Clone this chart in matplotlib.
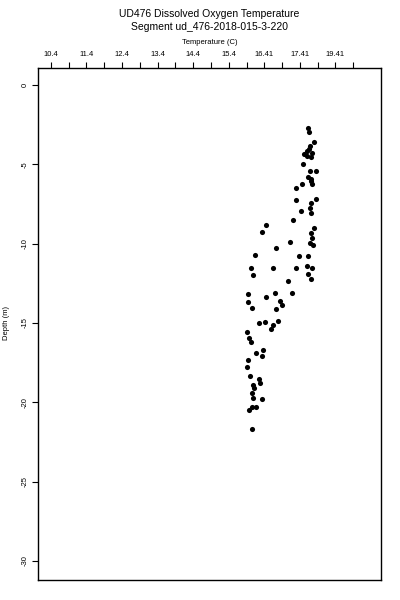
"""Profil de température (UD476) : profondeur en fonction de la température."""

import matplotlib
matplotlib.use("Agg")
import matplotlib.pyplot as plt

plt.rcParams["font.family"] = ["Liberation Sans", "DejaVu Sans"]
plt.rcParams["axes.unicode_minus"] = False

TITLE_1 = "UD476 Dissolved Oxygen Temperature"
TITLE_2 = "Segment ud_476-2018-015-3-220"

# valeurs
temperature = [
    17.62, 17.66, 17.80, 17.68, 17.59, 17.52, 17.73, 17.71, 17.50, 17.68,
    17.84, 17.64, 17.71, 17.73, 17.45, 17.29, 17.28, 17.85, 17.70, 17.68,
    17.70, 17.43, 17.21, 16.45, 16.33, 17.80, 17.70, 17.73, 17.68, 17.76,
    17.12, 16.73, 16.14, 17.37, 17.64, 16.03, 16.65, 17.28, 17.59, 17.73,
    16.09, 17.64, 17.70, 17.06, 15.95, 16.44, 16.70, 17.17, 15.95, 16.05,
    16.84, 16.89, 16.73, 16.26, 16.42, 16.78, 16.64, 16.58, 15.91, 15.97,
    16.02, 16.17, 16.36, 16.34, 15.93, 15.91, 16.00, 16.26, 16.28, 16.09,
    16.06, 16.09, 16.34, 16.05, 16.16, 15.97, 16.06,
    17.65, 17.60, 17.70, 16.10,
]
depth = [
    -2.70, -2.97, -3.60, -3.86, -4.17, -4.34, -4.27, -4.52, -4.97, -5.43,
    -5.43, -5.78, -5.95, -6.27, -6.27, -6.52, -7.26, -7.21, -7.42, -7.74,
    -8.05, -7.95, -8.54, -8.85, -9.28, -9.00, -9.31, -9.63, -9.94, -10.11,
    -9.91, -10.26, -10.72, -10.79, -10.79, -11.52, -11.56, -11.56, -11.42, -11.56,
    -11.98, -11.94, -12.21, -12.36, -13.16, -13.35, -13.09, -13.14, -13.69, -14.08,
    -13.62, -13.89, -14.10, -14.98, -14.95, -14.88, -15.15, -15.36, -15.58, -15.97,
    -16.21, -16.87, -16.71, -17.09, -17.36, -17.76, -18.35, -18.51, -18.77, -18.94,
    -19.40, -19.75, -19.77, -20.30, -20.30, -20.49, -21.71,
    -4.05, -4.45, -6.05, -19.10,
]

x_ticks = [10.4 + 0.5 * i for i in range(18)]
x_labels = ["10.4", "", "11.4", "", "12.4", "", "13.4", "", "14.4", "",
            "15.4", "", "16.41", "", "17.41", "", "19.41", ""]
y_ticks = [0, -5, -10, -15, -20, -25, -30]

fig = plt.figure(figsize=(4, 6), dpi=100)
ax = fig.add_axes([0.095, 0.0333, 0.8575, 0.8534])

ax.plot(temperature, depth, "o", color="black", markersize=3.7, markeredgewidth=0)

ax.set_xlim(10.04, 19.68)
ax.set_ylim(-31.2, 1.07)

ax.xaxis.tick_top()
ax.xaxis.set_label_position("top")
ax.set_xticks(x_ticks)
ax.set_xticklabels(x_labels, fontsize=5.5)
ax.set_yticks(y_ticks)
ax.set_yticklabels([str(v) for v in y_ticks], fontsize=5.5, rotation=90, va="center")
ax.tick_params(axis="x", length=4.5, width=0.8, pad=2.5)
ax.tick_params(axis="y", length=4, width=0.8, pad=3)
ax.set_xlabel("Temperature (C)", fontsize=5.5, labelpad=5)

for s in ax.spines.values():
    s.set_linewidth(1.0)

fig.text(0.524, 1 - 14 / 600, TITLE_1, ha="center", va="center", fontsize=7.5)
fig.text(0.524, 1 - 27 / 600, TITLE_2, ha="center", va="center", fontsize=7.5)
fig.text(6 / 400, 1 - 323 / 600, "Depth (m)", rotation=90, ha="center", va="center",
         fontsize=5.5)

fig.savefig("out.png", dpi=100)
plt.close(fig)
